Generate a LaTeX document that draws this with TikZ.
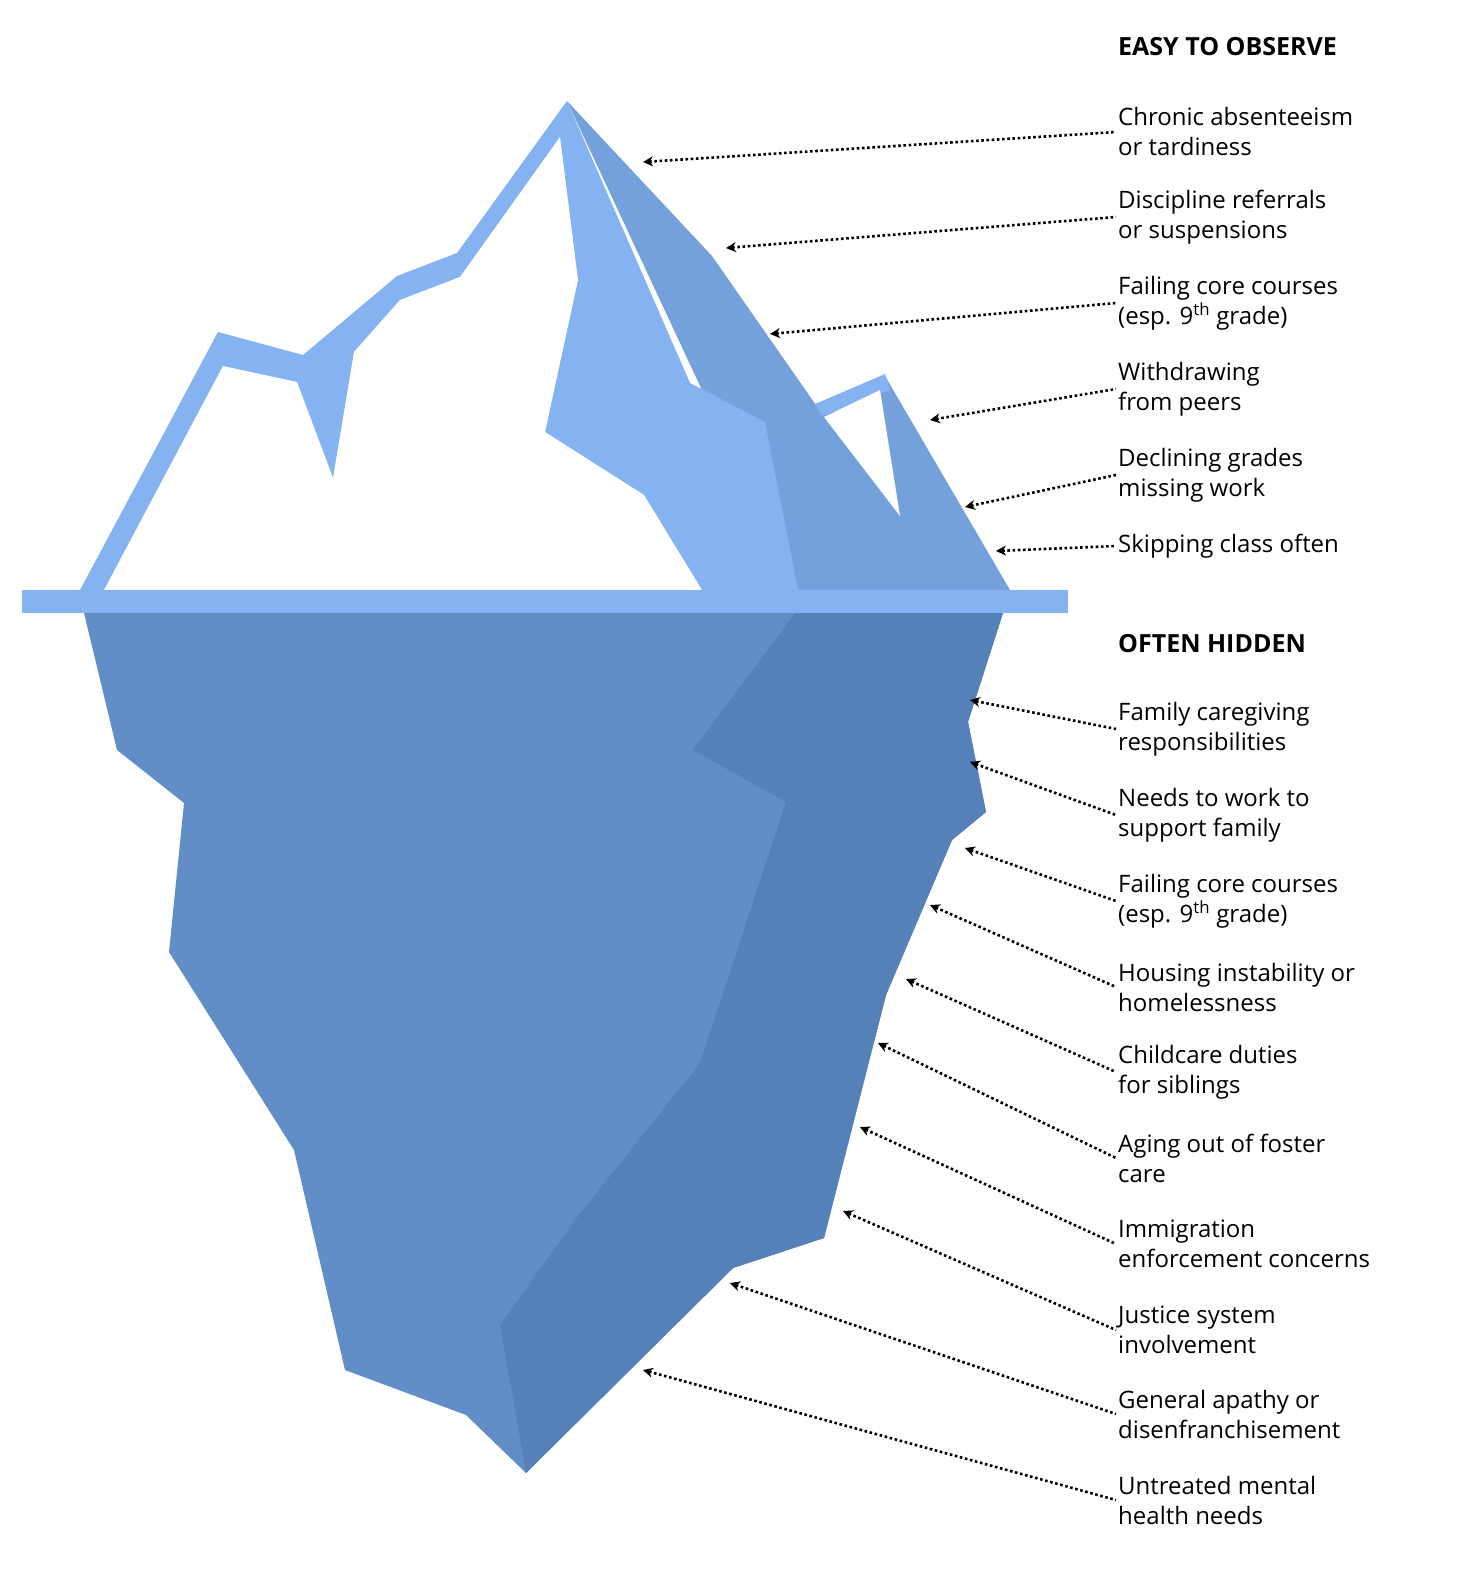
\documentclass[tikz,border=0pt]{standalone}
\usepackage{fontspec}
\setmainfont{Open Sans}
\usetikzlibrary{arrows.meta}
\definecolor{iceLight}{HTML}{85B3F1}
\definecolor{iceMid}{HTML}{74A1DB}
\definecolor{seaMid}{HTML}{628EC7}
\definecolor{seaDark}{HTML}{5681B8}
\tikzset{
  lbl/.style={anchor=west,align=left,inner sep=0pt,font=\fontsize{24}{30}\selectfont},
  head/.style={anchor=west,inner sep=0pt,font=\fontsize{25}{30}\selectfont\bfseries},
  pointer/.style={line width=2.6pt,dash pattern=on 2.6pt off 2.6pt,{Stealth[length=10pt,width=10pt]}-}
}
\begin{document}
\begin{tikzpicture}[x=1pt,y=-1pt]
\useasboundingbox (0,0) rectangle (1479,1573);
% above water
\fill[iceMid] (567,101) -- (712,256) -- (818,408) -- (885,376) -- (1010,590) -- (800,600) -- cycle; %right face
\fill[iceLight] (80,590) -- (218,332) -- (303,355) -- (397,276) -- (457,253) -- (567,101) -- (690,383) -- (765,422) -- (800,600) -- cycle; %left face
\fill[white] (104,590) -- (223,366) -- (297,382) -- (333,478) -- (354,352) -- (400,300) -- (460,277) -- (560,137) -- (578,280) -- (545,432) -- (644,495) -- (702,590) -- cycle; %snow
\fill[iceLight] (815,404) -- (885,374) -- (890,390) -- (822,416) -- cycle; %small peak rim
\fill[white] (824,417) -- (880,390) -- (900,516) -- cycle; %small peak snow
\fill[iceLight] (22,590) rectangle (1068,613); %waterline
% below water
\fill[seaMid] (84,613) -- (1003,613) -- (968,722) -- (986,812) -- (952,840) -- (886,995) -- (824,1238) -- (733,1268) -- (526,1473) -- (466,1415) -- (345,1370) -- (294,1150) -- (169,952) -- (184,803) -- (117,750) -- cycle;
\fill[seaDark] (795,613) -- (1003,613) -- (968,722) -- (986,812) -- (952,840) -- (886,995) -- (824,1238) -- (733,1268) -- (526,1473) -- (500,1325) -- (575,1220) -- (700,1063) -- (786,802) -- (693,750) -- cycle;
% headings
\node[head] (easy) at (1118,47) {EASY TO OBSERVE};
\node[head] (hidden) at (1118,644) {OFTEN HIDDEN};
% labels and pointers
\foreach \n/\y/\tx/\ty/\txt in {
  a/132/643/162/{Chronic absenteeism\\or tardiness},
  b/217/726/248/{Discipline referrals\\or suspensions},
  c/303/770/334/{Failing core courses\\(esp. 9\textsuperscript{th} grade)},
  d/389/930/420/{Withdrawing\\from peers},
  e/475/965/507/{Declining grades\\missing work},
  f/546/996/551/{Skipping class often},
  g/729/970/700/{Family caregiving\\responsibilities},
  h/815/970/762/{Needs to work to\\support family},
  i/901/965/848/{Failing core courses\\(esp. 9\textsuperscript{th} grade)},
  j/987/930/905/{Housing instability or\\homelessness},
  k/1072/906/979/{Childcare duties\\for siblings},
  l/1158/878/1043/{Aging out of foster\\care},
  m/1244/860/1127/{Immigration\\enforcement concerns},
  n/1330/843/1211/{Justice system\\involvement},
  o/1414/730/1283/{General apathy or\\disenfranchisement},
  p/1500/643/1370/{Untreated mental\\health needs}} {
  \node[lbl] (\n) at (1118,\y) {\txt};
  \coordinate (\n tip) at (\tx,\ty);
  \draw[pointer] (\n tip) -- ([xshift=-2pt]\n.west);
}
\end{tikzpicture}
\end{document}
